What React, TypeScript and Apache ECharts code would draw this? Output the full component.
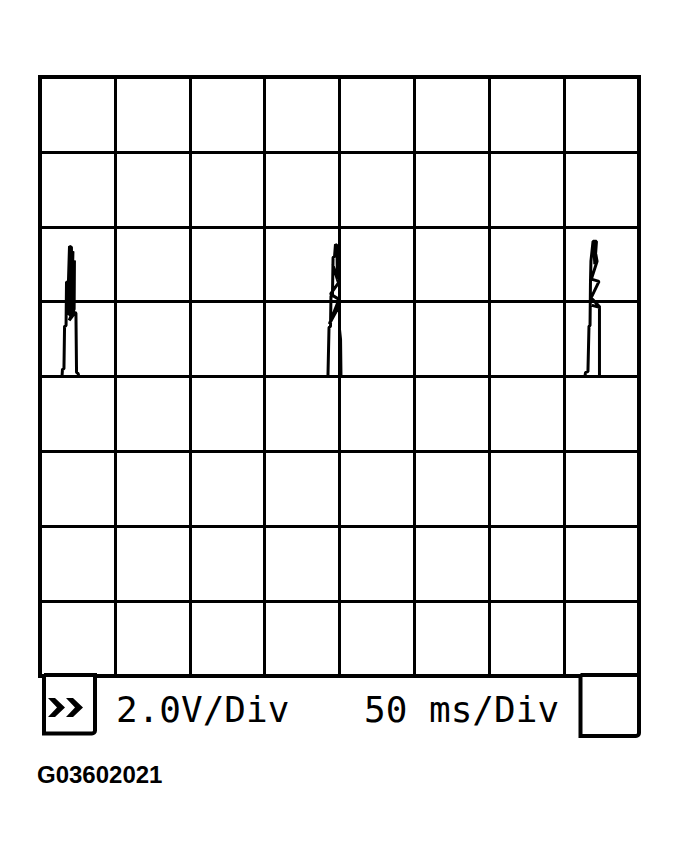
import React, { useEffect, useRef } from "react";
import * as echarts from "echarts";

// Time axis (ms) and voltage axis (V)
const timeTicksMs = [0, 50, 100, 150, 200, 250, 300, 350, 400];
const voltTicks = [-8, -6, -4, -2, 0, 2, 4, 6, 8];

// Pulses: [time ms, volts]
const pulse1: [number, number][] = [
  [14.0, 0], [14.7, 0], [15.0, 0.19], [16.0, 0.21], [16.4, 1.34], [17.4, 1.36],
  [17.7, 2.52], [19.0, 2.54], [19.7, 3.48], [21.0, 3.45], [21.4, 1.6], [18.3, 2.0],
  [20.4, 3.3], [22.0, 3.34], [21.0, 1.6], [18.7, 1.7], [22.4, 3.0], [23.0, 3.1],
  [22.8, 1.8], [19.5, 1.5], [23.4, 1.71], [24.0, 1.69], [24.4, 0.11], [25.4, 0.08],
  [26.0, 0],
];
const pulse2: [number, number][] = [
  [190.3, 0], [191.7, 0], [192.3, 0.03], [193.0, 1.31], [194.0, 1.34], [194.3, 2.14],
  [195.3, 2.17], [195.7, 3.18], [196.7, 3.21], [197.3, 3.53], [198.3, 3.5], [198.6, 2.6],
  [195.4, 3.0], [199.3, 2.5], [194.0, 2.2], [199.7, 2.06], [193.2, 1.4], [200.0, 1.9],
  [200.0, 1.26], [200.7, 0.99], [201.0, 0], [202.3, 0],
];
const pulse3: [number, number][] = [
  [362.6, 0], [363.9, 0], [364.3, 0.11], [365.9, 0.13], [366.6, 1.34], [367.3, 1.36],
  [367.6, 2.54], [367.9, 3.08], [369.3, 3.61], [371.6, 3.61], [370.5, 3.0], [369.6, 3.6],
  [372.0, 3.08], [368.2, 2.6], [373.3, 2.54], [368.0, 2.1], [374.0, 1.85], [368.6, 1.9],
  [373.6, 1.85], [373.6, 0], [374.6, 0],
];
const traceStart: [number, number] = [0, 0];
const traceEnd: [number, number] = [400, 0];

const voltsLabel = "2.0V/Div";
const timeLabel = "50 ms/Div";
const figureId = "G03602021";

export default function App() {
  const ref = useRef<HTMLDivElement>(null);

  useEffect(() => {
    if (!ref.current) return;
    const chart = echarts.init(ref.current, undefined, { renderer: "svg" });
    const data = [traceStart, ...pulse1, ...pulse2, ...pulse3, traceEnd];
    const gridLine = { show: true, lineStyle: { color: "#000", width: 3 } };
    const labelStyle = {
      fontFamily: "DejaVu Sans Mono",
      fontSize: 36,
      fill: "#000",
      textAlign: "left",
      textVerticalAlign: "middle",
      verticalAlign: "middle",
    };
    chart.setOption({
      animation: false,
      backgroundColor: "#fff",
      grid: {
        left: 40,
        top: 77,
        width: 599,
        height: 599,
        show: true,
        borderColor: "#000",
        borderWidth: 4,
        backgroundColor: "#fff",
      },
      xAxis: {
        type: "value",
        min: timeTicksMs[0],
        max: timeTicksMs[timeTicksMs.length - 1],
        interval: 50,
        axisLine: { show: false },
        axisTick: { show: false },
        axisLabel: { show: false },
        splitLine: gridLine,
      },
      yAxis: {
        type: "value",
        min: voltTicks[0],
        max: voltTicks[voltTicks.length - 1],
        interval: 2,
        axisLine: { show: false },
        axisTick: { show: false },
        axisLabel: { show: false },
        splitLine: gridLine,
      },
      series: [
        {
          type: "line",
          data,
          symbol: "none",
          lineStyle: { color: "#000", width: 3 },
          z: 5,
        },
      ],
      graphic: [
        {
          type: "rect",
          z: 10,
          shape: { x: 44, y: 675, width: 51, height: 58.5, r: [0, 0, 3, 0] },
          style: { fill: "#fff", stroke: "#000", lineWidth: 4 },
        },
        {
          type: "rect",
          z: 10,
          shape: { x: 580.5, y: 675, width: 58.5, height: 61, r: [0, 0, 3, 0] },
          style: { fill: "#fff", stroke: "#000", lineWidth: 4 },
        },
        {
          type: "polygon",
          z: 11,
          shape: { points: [[48, 698], [55, 698], [65, 707.5], [55, 717], [48, 717], [57, 707.5]] },
          style: { fill: "#000" },
        },
        {
          type: "polygon",
          z: 11,
          shape: { points: [[66, 698], [73, 698], [83, 707.5], [73, 717], [66, 717], [75, 707.5]] },
          style: { fill: "#000" },
        },
        {
          type: "text",
          z: 11,
          x: 116,
          y: 709,
          style: { ...labelStyle, text: voltsLabel },
        },
        {
          type: "text",
          z: 11,
          x: 364,
          y: 709,
          style: { ...labelStyle, text: timeLabel },
        },
        {
          type: "text",
          z: 11,
          x: 37,
          y: 762,
          style: {
            text: figureId,
            fontFamily: "Liberation Sans",
            fontWeight: "bold",
            fontSize: 24,
            fill: "#000",
            textAlign: "left",
            textVerticalAlign: "top",
            verticalAlign: "top",
          },
        },
      ],
    });
    return () => chart.dispose();
  }, []);

  return (
    <div
      ref={ref}
      style={{ position: "absolute", left: 0, top: 0, width: 679, height: 858, background: "#fff" }}
    />
  );
}
